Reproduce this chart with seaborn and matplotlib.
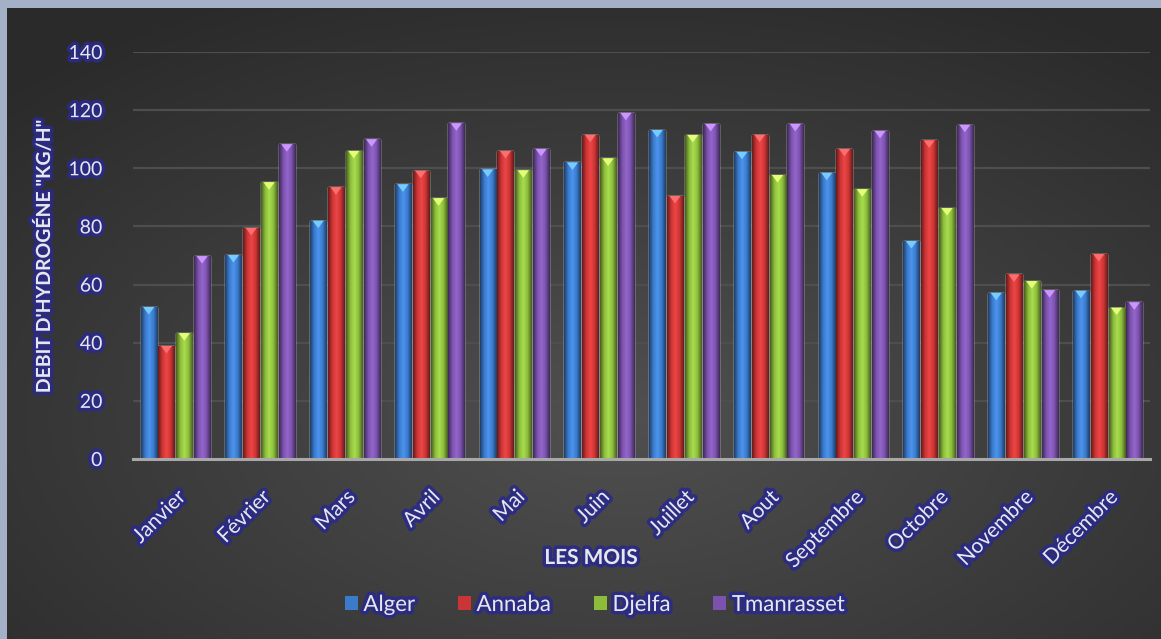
import numpy as np
import pandas as pd
import matplotlib
matplotlib.use("Agg")
import matplotlib.pyplot as plt
import matplotlib.patheffects as pe
from matplotlib.colors import LinearSegmentedColormap, to_rgb
from matplotlib.patches import Polygon
import seaborn as sns

months = ["Janvier", "Février", "Mars", "Avril", "Mai", "Juin", "Juillet",
          "Aout", "Septembre", "Octobre", "Novembre", "Décembre"]
cities = ["Alger", "Annaba", "Djelfa", "Tmanrasset"]
alger = [52.3, 70.2, 82, 94.5, 99.6, 102, 113.2, 105.7, 98.5, 75, 57.2, 57.9]
annaba = [38.9, 79.5, 93.5, 99.2, 106, 111.6, 90.5, 111.6, 106.7, 109.6, 63.5, 70.5]
djelfa = [43.3, 95.2, 106, 89.7, 99.3, 103.4, 111.5, 97.7, 92.8, 86.3, 61.2, 52.1]
tman = [69.8, 108.3, 110, 115.5, 106.7, 119.1, 115.3, 115.3, 112.9, 115, 58.1, 53.9]
colors = ["#3b7bcc", "#cc3535", "#8cbc3c", "#7b52ad"]

df = pd.DataFrame({
    "Mois": months * 4,
    "Ville": sum([[c] * 12 for c in cities], []),
    "Debit": alger + annaba + djelfa + tman,
})

sns.set_theme(style="dark")
plt.rcParams["font.family"] = ["Lato", "DejaVu Sans"]

W, H = 1161, 639
fig = plt.figure(figsize=(W / 100, H / 100), dpi=100)
fig.patch.set_facecolor("#a4b0c8")

# background gradient panel
bg = fig.add_axes([7 / W, 0, 1 - 7 / W, 1 - 8 / H])
yy, xx = np.mgrid[0:200, 0:360]
cx, cy = 190, 70
r = np.sqrt(((xx - cx) / 360) ** 2 + ((yy - cy) / 200) ** 2)
r = np.clip(r / 0.75, 0, 1)
cmap_bg = LinearSegmentedColormap.from_list("bg", ["#505050", "#2a2a2a"])
bg.imshow(r, cmap=cmap_bg, aspect="auto", origin="lower", extent=[0, 1, 0, 1])
bg.set_axis_off()

ax = fig.add_axes([133 / W, 1 - 459 / H, (1150 - 133) / W, (459 - 52) / H])
ax.set_facecolor("none")
sns.barplot(data=df, x="Mois", y="Debit", hue="Ville", palette=colors,
            width=0.84, gap=0.1, ax=ax, legend=False, saturation=1)

# cylindrical shading and caps
for patch, col in zip(ax.patches, sum([[c] * 12 for c in colors], [])):
    x0, y0 = patch.get_x(), patch.get_y()
    w, h = patch.get_width(), patch.get_height()
    base = np.array(to_rgb(col))
    dark = base * 0.5
    light = np.clip(base * 1.12 + 0.04, 0, 1)
    cm = LinearSegmentedColormap.from_list("b", [dark, base, light, base, dark])
    grad = np.linspace(0, 1, 64).reshape(1, -1)
    im = ax.imshow(grad, cmap=cm, aspect="auto",
                   extent=[x0, x0 + w, y0, y0 + h], zorder=patch.get_zorder() + 0.1)
    im.set_clip_path(patch)
    capc = np.clip(base * 1.35 + 0.15, 0, 1)
    tri = Polygon([[x0 + w * 0.15, y0 + h], [x0 + w * 0.85, y0 + h],
                   [x0 + w * 0.5, y0 + h - 2.6]], closed=True,
                  facecolor=capc, edgecolor="none", zorder=patch.get_zorder() + 0.2)
    ax.add_patch(tri)

ax.set_xlim(-0.5, 11.5)
ax.set_ylim(0, 140)
ax.set_yticks(range(0, 141, 20))
ax.grid(axis="y", color="#4e4e4e", linewidth=1.6)
ax.grid(axis="x", visible=False)
ax.set_axisbelow(True)
for s in ["top", "right", "left"]:
    ax.spines[s].set_visible(False)
ax.spines["bottom"].set_color("#a8a8a8")
ax.spines["bottom"].set_linewidth(2.2)
ax.spines["bottom"].set_zorder(5)

glow = [pe.withStroke(linewidth=5, foreground="#2a2a88", alpha=0.9)]
txt = "#e6e6ee"

ax.tick_params(axis="y", length=0, pad=22, labelsize=14, labelcolor=txt)
ax.tick_params(axis="x", length=0, pad=20, labelsize=15, labelcolor=txt)
for lab in ax.get_yticklabels():
    lab.set_path_effects(glow)
for lab in ax.get_xticklabels():
    lab.set_rotation(45)
    lab.set_ha("right")
    lab.set_rotation_mode("anchor")
    lab.set_path_effects(glow)

ax.set_xlabel("LES MOIS", fontsize=15, fontweight="bold", color=txt,
              path_effects=glow)
ax.set_ylabel("DEBIT D'HYDROGÉNE \"KG/H\"", fontsize=14, fontweight="bold",
              color=txt, path_effects=glow)
ax.yaxis.set_label_coords(-80 / (1150 - 133), 0.5)
ax.xaxis.set_label_coords((591 - 133) / (1150 - 133), -(548 - 459) / (459 - 52))

handles = [plt.Rectangle((0, 0), 1, 1, facecolor=c, edgecolor="none") for c in colors]
leg = fig.legend(handles, cities, loc="center", bbox_to_anchor=(595 / W, 1 - 605 / H),
                 ncol=4, frameon=False, fontsize=16, handlelength=0.6,
                 handleheight=0.6, handletextpad=0.25, columnspacing=1.9)
for t in leg.get_texts():
    t.set_color(txt)
    t.set_path_effects(glow)

fig.savefig("out.png", dpi=100, facecolor=fig.get_facecolor())
